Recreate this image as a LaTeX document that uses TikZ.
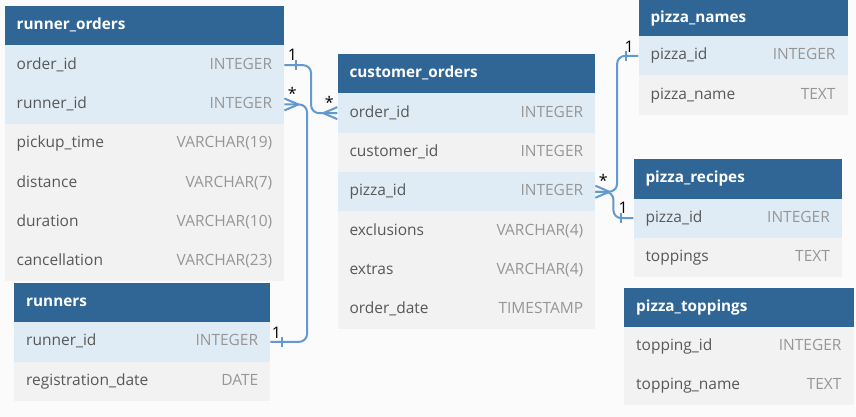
\documentclass[tikz,border=0pt]{standalone}
\usepackage{fontspec}
\setmainfont{Open Sans}
\definecolor{headblue}{RGB}{48,102,150}
\definecolor{keyblue}{RGB}{223,236,245}
\definecolor{rowgrey}{RGB}{242,242,242}
\definecolor{namegrey}{RGB}{88,88,88}
\definecolor{typegrey}{RGB}{150,150,150}
\definecolor{linkblue}{RGB}{98,154,205}
\definecolor{bgwhite}{RGB}{251,251,251}
\newcommand{\crowfoot}[2]{\draw[link] ([xshift=#2*14pt]#1) -- ([yshift=6pt]#1) ([xshift=#2*14pt]#1) -- ([yshift=-6pt]#1);}
\newcommand{\onetick}[2]{\draw[link] ([xshift=#2*12pt,yshift=5pt]#1) -- ([xshift=#2*12pt,yshift=-5pt]#1);}
\begin{document}
\begin{tikzpicture}[x=1pt, y=-1pt,
  cell/.style={anchor=north west, inner sep=0pt, minimum height=39.3pt},
  headcell/.style={cell, fill=headblue},
  keycell/.style={cell, fill=keyblue},
  plaincell/.style={cell, fill=rowgrey},
  headname/.style={anchor=west, inner sep=0pt, text=white, font={\fontsize{15.3}{18}\selectfont\bfseries}, text height=11pt, text depth=3pt},
  colname/.style={anchor=west, inner sep=0pt, text=namegrey, font={\fontsize{15.5}{18}\selectfont}, text height=11pt, text depth=3pt},
  coltype/.style={anchor=east, inner sep=0pt, text=typegrey, font={\fontsize{15.5}{18}\selectfont}, text height=11pt, text depth=3pt},
  link/.style={draw=linkblue, line width=2pt},
  card/.style={inner sep=0pt, font={\fontsize{16}{18}\selectfont}}]
\clip (0,0) rectangle (856,417);
\fill[bgwhite] (0,0) rectangle (856,417);
\node[headcell, minimum width=279.5pt] (ro) at (4.5,6) {};
\node[headname] (ro-title) at ([xshift=12pt]ro.west) {runner\_orders};
\foreach \nm/\ty/\st [count=\i] in {order\_id/INTEGER/keycell, runner\_id/INTEGER/keycell, pickup\_time/VARCHAR(19)/plaincell, distance/VARCHAR(7)/plaincell, duration/VARCHAR(10)/plaincell, cancellation/VARCHAR(23)/plaincell}{
  \node[\st, minimum width=279.5pt] (ro-\i) at (4.5,{6+39.3*\i}) {};
  \node[colname] (ro-\i-n) at ([xshift=12pt]ro-\i.west) {\nm};
  \node[coltype] (ro-\i-t) at ([xshift=-12pt]ro-\i.east) {\ty};
}
\node[headcell, minimum width=256pt] (rn) at (14,282.7) {};
\node[headname] (rn-title) at ([xshift=12pt]rn.west) {runners};
\foreach \nm/\ty/\st [count=\i] in {runner\_id/INTEGER/keycell, registration\_date/DATE/plaincell}{
  \node[\st, minimum width=256pt] (rn-\i) at (14,{282.7+39.3*\i}) {};
  \node[colname] (rn-\i-n) at ([xshift=12pt]rn-\i.west) {\nm};
  \node[coltype] (rn-\i-t) at ([xshift=-12pt]rn-\i.east) {\ty};
}
\node[headcell, minimum width=257.7pt] (co) at (337.3,54) {};
\node[headname] (co-title) at ([xshift=12pt]co.west) {customer\_orders};
\foreach \nm/\ty/\st [count=\i] in {order\_id/INTEGER/keycell, customer\_id/INTEGER/plaincell, pizza\_id/INTEGER/keycell, exclusions/VARCHAR(4)/plaincell, extras/VARCHAR(4)/plaincell, order\_date/TIMESTAMP/plaincell}{
  \node[\st, minimum width=257.7pt] (co-\i) at (337.3,{54+39.3*\i}) {};
  \node[colname] (co-\i-n) at ([xshift=12pt]co-\i.west) {\nm};
  \node[coltype] (co-\i-t) at ([xshift=-12pt]co-\i.east) {\ty};
}
\node[headcell, minimum width=209pt] (pn) at (638.3,-3.3) {};
\node[headname] (pn-title) at ([xshift=12pt,yshift=-1.5pt]pn.west) {pizza\_names};
\foreach \nm/\ty/\st [count=\i] in {pizza\_id/INTEGER/keycell, pizza\_name/TEXT/plaincell}{
  \node[\st, minimum width=209pt] (pn-\i) at (638.3,{-3.3+39.3*\i}) {};
  \node[colname] (pn-\i-n) at ([xshift=12pt]pn-\i.west) {\nm};
  \node[coltype] (pn-\i-t) at ([xshift=-12pt]pn-\i.east) {\ty};
}
\node[headcell, minimum width=208.4pt] (pr) at (633.3,159) {};
\node[headname] (pr-title) at ([xshift=12pt]pr.west) {pizza\_recipes};
\foreach \nm/\ty/\st [count=\i] in {pizza\_id/INTEGER/keycell, toppings/TEXT/plaincell}{
  \node[\st, minimum width=208.4pt] (pr-\i) at (633.3,{159+39.3*\i}) {};
  \node[colname] (pr-\i-n) at ([xshift=12pt]pr-\i.west) {\nm};
  \node[coltype] (pr-\i-t) at ([xshift=-12pt]pr-\i.east) {\ty};
}
\node[headcell, minimum width=229.3pt] (pt) at (624,287.3) {};
\node[headname] (pt-title) at ([xshift=12pt]pt.west) {pizza\_toppings};
\foreach \nm/\ty/\st [count=\i] in {topping\_id/INTEGER/plaincell, topping\_name/TEXT/plaincell}{
  \node[\st, minimum width=229.3pt] (pt-\i) at (624,{287.3+39.3*\i}) {};
  \node[colname] (pt-\i-n) at ([xshift=12pt]pt-\i.west) {\nm};
  \node[coltype] (pt-\i-t) at ([xshift=-12pt]pt-\i.east) {\ty};
}
\draw[link, rounded corners=8pt] (ro-1.east) -- ++(26.7,0) |- (co-1.west);
\onetick{ro-1.east}{1}
\crowfoot{co-1.west}{-1}
\node[card] (c1a) at ([shift={(8,-10)}]ro-1.east) {1};
\node[card] (c1b) at ([shift={(-8,-11)}]co-1.west) {*};
\draw[link, rounded corners=8pt] (ro-2.east) -- ++(22.7,0) |- (rn-1.east);
\crowfoot{ro-2.east}{1}
\onetick{rn-1.east}{1}
\node[card] (c2a) at ([shift={(8,-11)}]ro-2.east) {*};
\node[card] (c2b) at ([shift={(6,-9)}]rn-1.east) {1};
\draw[link, rounded corners=8pt] (co-3.east) -- ++(21.7,0) |- (pn-1.west);
\draw[link, rounded corners=8pt] (co-3.east) -- ++(18,0) |- (pr-1.west);
\crowfoot{co-3.east}{1}
\onetick{pn-1.west}{-1}
\onetick{pr-1.west}{-1}
\node[card] (c3a) at ([shift={(8,-11)}]co-3.east) {*};
\node[card] (c3b) at ([shift={(-9,-9)}]pn-1.west) {1};
\node[card] (c4b) at ([shift={(-10,-10)}]pr-1.west) {1};
\end{tikzpicture}
\end{document}
